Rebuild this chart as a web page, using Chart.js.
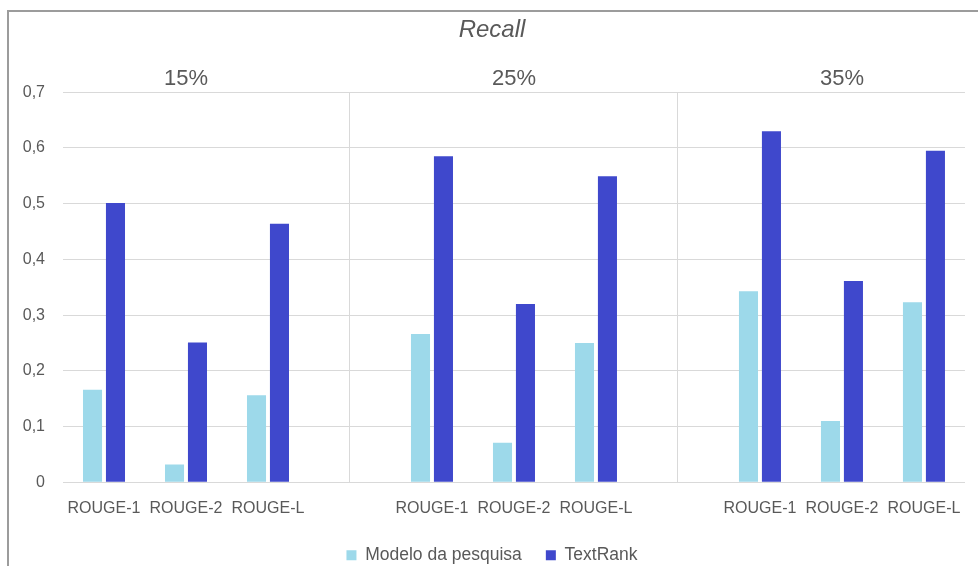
<!DOCTYPE html>
<html>
<head>
<meta charset="utf-8">
<script src="https://cdn.jsdelivr.net/npm/chart.js@4.4.0/dist/chart.umd.min.js"></script>
<style>
  body { margin: 0; background: #fff; }
  #frame { position: absolute; left: 7px; top: 10px; width: 990px; height: 580px;
           border-top: 2px solid #9c9c9c; border-left: 2px solid #9c9c9c; }
  #wrap { position: absolute; left: 0; top: 0; width: 978px; height: 566px; }
</style>
</head>
<body>
<div id="frame"></div>
<div id="wrap"><canvas id="chart"></canvas></div>
<script>
// Categorias (com espaço vazio entre os grupos)
const categories = ['ROUGE-1', 'ROUGE-2', 'ROUGE-L', '', 'ROUGE-1', 'ROUGE-2', 'ROUGE-L', '', 'ROUGE-1', 'ROUGE-2', 'ROUGE-L'];
const groupLabels = ['', '15%', '', '', '', '25%', '', '', '', '35%', ''];
const separatorIdx = [3, 7];

// Séries
const modeloPesquisa = [0.166, 0.032, 0.156, null, 0.266, 0.071, 0.250, null, 0.343, 0.110, 0.323];
const textRank = [0.501, 0.251, 0.464, null, 0.585, 0.320, 0.549, null, 0.630, 0.361, 0.595];

// Eixo Y
const yTicks = [0, 0.1, 0.2, 0.3, 0.4, 0.5, 0.6, 0.7];

const textColor = '#595959';
const gridColor = '#d9d9d9';
const fontFam = '"Liberation Sans", Arial, sans-serif';

window.onload = function() {
    const ctx = document.getElementById('chart');
    new Chart(ctx, {
        type: 'bar',
        data: {
            labels: categories,
            datasets: [{
                label: 'Modelo da pesquisa',
                data: modeloPesquisa,
                backgroundColor: '#9dd9ea',
                categoryPercentage: 0.56,
                barPercentage: 0.83
            }, {
                label: 'TextRank',
                data: textRank,
                backgroundColor: '#3f48cc',
                categoryPercentage: 0.56,
                barPercentage: 0.83
            }]
        },
        options: {
            responsive: true,
            maintainAspectRatio: false,
            animation: false,
            layout: { padding: { left: 19, right: 13, top: 0, bottom: -8 } },
            plugins: {
                title: {
                    display: true,
                    text: 'Recall',
                    color: textColor,
                    font: { family: fontFam, size: 24, style: 'italic', weight: 'normal' },
                    padding: { top: 16, bottom: 21 }
                },
                legend: {
                    position: 'bottom',
                    labels: {
                        color: textColor,
                        font: { family: fontFam, size: 17.5 },
                        boxWidth: 10,
                        boxHeight: 10,
                        padding: 24
                    }
                },
                tooltip: { enabled: false }
            },
            scales: {
                x: {
                    afterFit: function(scale) { scale.height -= 13; },
                    grid: {
                        offset: false,
                        drawTicks: false,
                        color: function(c) {
                            return separatorIdx.indexOf(c.index) >= 0 ? gridColor : 'rgba(0,0,0,0)';
                        }
                    },
                    border: { display: true, color: gridColor },
                    ticks: {
                        color: textColor,
                        font: { family: fontFam, size: 16 },
                        padding: 17,
                        maxRotation: 0,
                        autoSkip: false
                    }
                },
                x2: {
                    position: 'top',
                    type: 'category',
                    labels: groupLabels,
                    grid: { display: false, drawTicks: false },
                    border: { display: false },
                    ticks: {
                        color: textColor,
                        font: { family: fontFam, size: 22 },
                        padding: 0,
                        maxRotation: 0,
                        autoSkip: false
                    }
                },
                y: {
                    min: 0,
                    max: 0.7,
                    afterFit: function(scale) { scale.width = 44; },
                    afterBuildTicks: function(scale) {
                        scale.ticks = yTicks.map(v => ({ value: v }));
                    },
                    grid: { color: gridColor, drawTicks: false },
                    border: { display: false },
                    ticks: {
                        color: textColor,
                        font: { family: fontFam, size: 16 },
                        padding: 18,
                        callback: function(v) {
                            return v === 0 ? '0' : v.toFixed(1).replace('.', ',');
                        }
                    }
                }
            }
        }
    });
};
</script>
</body>
</html>
